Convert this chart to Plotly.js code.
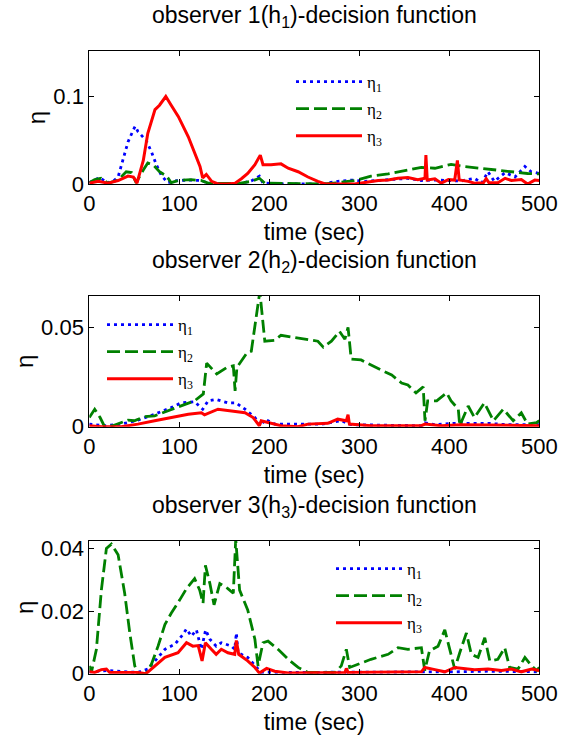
<!DOCTYPE html>
<html>
<head>
<meta charset="utf-8">
<script src="https://cdn.plot.ly/plotly-3.0.1.min.js"></script>
<style>html,body{margin:0;padding:0;background:#fff;}#chart{width:564px;height:738px;}</style>
</head>
<body>
<div id="chart"></div>
<script>
// ---------- labels ----------
const subplotTitles = ["observer 1(h<sub>1</sub>)-decision function",
                       "observer 2(h<sub>2</sub>)-decision function",
                       "observer 3(h<sub>3</sub>)-decision function"];
const seriesNames = ["η<sub>1</sub>", "η<sub>2</sub>", "η<sub>3</sub>"];
const xLabel = "time (sec)";
const yLabel = "η";
const xTicks = [0, 100, 200, 300, 400, 500];
const yTicks1 = [0, 0.1];
const yTicks2 = [0, 0.05];
const yTicks3 = [0, 0.02, 0.04];

// ---------- observer 1 ----------
const p1_eta1_t = [0,6,11.6,17,24,32,37,43,49,51,54,58,63,69,74.5,80,87,95,110,124,132,147,165,180,189,193,221,258,276,291,306,321,339,354,369,384,399,413,428,436,443,450,462,473,484,491,500];
const p1_eta1_v = [0.0015,0.005,0.0075,0.0035,0.001,0.008,0.027,0.048,0.062,0.066,0.060,0.056,0.050,0.037,0.022,0.010,0.0015,0.0035,0.0045,0.004,0.001,0,0,0.0035,0.009,0.001,0,0,0.003,0.0045,0.003,0.004,0.005,0.0065,0.004,0.0045,0.004,0.0035,0.0065,0.001,0.014,0.003,0.013,0.008,0.020,0.014,0.012];
const p1_eta2_t = [0,6,13,21,32,41,47,52,60,65,71,78,86,91,99,113,124,132,165,180,189,195,258,276,295,313,332,350,369,384,402,417,436,454,473,487,500];
const p1_eta2_v = [0.0015,0.005,0.0065,0.001,0.0045,0.014,0.013,0.0015,0.016,0.024,0.022,0.014,0.009,0.0015,0.004,0.005,0.004,0.001,0.0005,0.003,0.0065,0.001,0,0.0015,0.004,0.009,0.0115,0.015,0.019,0.018,0.0225,0.020,0.018,0.016,0.014,0.012,0.0115];
const p1_eta3_t = [0,10,21,32,43,49,53,60,65,73,78,85,91,99,110,117,123,126,130,136,143,154,162,169,176,184,190,193,202,213,221,232,243,254,262,295,306,321,332,343,354,365,373,374,375.5,384,391,399,406,409,411,421,428,438,441,444,454,462,469,480,487,495,500];
const p1_eta3_v = [0.001,0.003,0.001,0.004,0.009,0.008,0.001,0.027,0.058,0.085,0.090,0.100,0.090,0.077,0.054,0.035,0.020,0.007,0.011,0.003,0,0,0.001,0.006,0.012,0.022,0.033,0.022,0.022,0.023,0.018,0.014,0.008,0.003,0,0,0.0015,0.004,0.0045,0.0065,0.0075,0.005,0.0065,0.033,0.0045,0.006,0.001,0.005,0.0045,0.027,0.0045,0.003,0.001,0.0015,0.006,0.0015,0.0015,0.0065,0.004,0.005,0,0.0045,0.004];

// ---------- observer 2 ----------
const p2_eta1_t = [0,17,35.6,54,72.6,91,102,117,126,132,141,154,163,173,184,191,195,206,258,280,291,369,373,384,406,443,465,500];
const p2_eta1_v = [0.0013,0.0005,0.0013,0.0033,0.0063,0.0096,0.012,0.0126,0.0088,0.013,0.0137,0.012,0.012,0.0088,0.0046,0.0005,0.0038,0.0013,0.0013,0.003,0.001,0.0005,0.002,0.001,0.0017,0.0017,0.001,0.001];
const p2_eta2_t = [0,6,12,17,26,35.6,43,50,61,72.6,87.5,102,117,126.7,130.4,141.6,152.7,160,162,164,175,180,189.5,195,206,213,228,243,254,260,269,278,284,287.5,291,302,313,324,336,347,354,363,371,373,376,386,397,402,410,411.6,421,428,439,449,460,471,480,487,497,500];
const p2_eta2_v = [0.0046,0.0088,0.0046,0,0.0005,0.002,0.0033,0.003,0.005,0.0055,0.008,0.0104,0.013,0.0165,0.032,0.0265,0.0298,0.0306,0.018,0.0298,0.037,0.038,0.068,0.043,0.0435,0.046,0.045,0.044,0.043,0.040,0.043,0.048,0.044,0.050,0.034,0.0336,0.031,0.0286,0.026,0.022,0.021,0.017,0.020,0.003,0.013,0.013,0.017,0.013,0.0088,0.0005,0.0104,0.0046,0.012,0.003,0.0088,0.003,0.007,0.0013,0.002,0.003];
const p2_eta3_t = [0,13,35.6,54,72.6,91,110,124.5,128,143,158,173,182,189,191,198.6,213,232,243,265,276,285.6,287.5,289,313,369,373,391,413,443,500];
const p2_eta3_v = [0.0005,0,0,0.0013,0.003,0.0046,0.0063,0.007,0.006,0.0088,0.008,0.007,0.0046,0.0005,0.003,0.002,0.0005,0,0.0013,0.0017,0.0038,0.003,0.006,0.0013,0.0005,0.0005,0.0013,0.0005,0.001,0.0008,0.0005];

// ---------- observer 3 ----------
const p3_eta1_t = [0,21,54,65,76.4,84,95,104,108,113.4,119,124.5,129.3,134,141,146.7,158,161.6,163.4,165.3,176,184,191,206,369,406,443,500];
const p3_eta1_v = [0.0006,0.001,0.0004,0.0015,0.0052,0.0078,0.0094,0.0125,0.0143,0.012,0.014,0.0078,0.014,0.011,0.0088,0.0099,0.0088,0.0078,0.013,0.0067,0.0052,0.0025,0.0004,0.0004,0.0004,0.0006,0.0008,0.0006];
const p3_eta2_t = [0,2.3,7.9,13.4,19,24.5,32,39.3,45,50.5,54,63,69,76.4,84,91,100.5,108,117,122.7,126.4,129,134,138.6,145,154,160,162.7,167,176,184,187.5,193,198.6,209.7,221,232,243,273,280,285.6,289.3,298.6,313,332,343,354,369,372.7,378,387.5,395,400.5,406,411.6,419,424.5,432,439.4,445,454,461.6,467,476.4,484,491.5,497,500];
const p3_eta2_v = [0.0025,0.0004,0.0078,0.0267,0.040,0.0414,0.038,0.0257,0.013,0.0025,0,0,0.003,0.0088,0.0157,0.0193,0.0236,0.0272,0.0304,0.0267,0.0225,0.0346,0.0288,0.022,0.0288,0.0272,0.0257,0.043,0.0267,0.0204,0.011,0.0025,0.0099,0.0104,0.0078,0.0046,0.002,0.0004,0.0004,0.0025,0.0078,0.002,0.003,0.0046,0.0062,0.0083,0.0078,0.0083,0.001,0.0073,0.0088,0.014,0.0078,0.0015,0.0067,0.013,0.0062,0.0052,0.0115,0.0041,0.0046,0.0083,0.002,0.0015,0.0052,0.0025,0.001,0.002];
const p3_eta3_t = [0,6,13.4,19,22.7,28,39,54,63,72.6,84,98.6,108,115,121,125.3,129,135.6,141,146.7,154,161.6,163.4,166,176,184,189,197,206,221,258,284,285.6,287.5,369,372.7,384,395,406,417,428,443,458,469,480,491.5,500];
const p3_eta3_v = [0.0006,0.0004,0.0013,0.0015,0.0004,0.0004,0.0006,0.0004,0,0.0025,0.0052,0.0067,0.0099,0.0088,0.009,0.0041,0.0099,0.0078,0.0062,0.0078,0.0067,0.0062,0.0106,0.0062,0.0041,0.002,0.0002,0.0017,0.0008,0.0002,0.0002,0.0004,0.0017,0.0004,0.0006,0.002,0.0013,0.0006,0.002,0.0017,0.0013,0.0015,0.001,0.0015,0.0006,0.0015,0.001];

// ---------- styling ----------
const W = 564, H = 738;
const styles = [
  {color: '#0000ff', dash: '3px,4px', width: 2.8},
  {color: '#008000', dash: '13px,5px', width: 2.8},
  {color: '#ff0000', dash: 'solid', width: 3}
];
const panels = [
  {ax: '', leg: 'legend', data: [[p1_eta1_t,p1_eta1_v],[p1_eta2_t,p1_eta2_v],[p1_eta3_t,p1_eta3_v]]},
  {ax: '2', leg: 'legend2', data: [[p2_eta1_t,p2_eta1_v],[p2_eta2_t,p2_eta2_v],[p2_eta3_t,p2_eta3_v]]},
  {ax: '3', leg: 'legend3', data: [[p3_eta1_t,p3_eta1_v],[p3_eta2_t,p3_eta2_v],[p3_eta3_t,p3_eta3_v]]}
];
const traces = [];
panels.forEach((p, pi) => {
  p.data.forEach((d, si) => {
    traces.push({
      type: 'scatter', mode: 'lines',
      x: d[0], y: d[1],
      xaxis: 'x' + p.ax, yaxis: 'y' + p.ax,
      name: seriesNames[si],
      legend: p.leg,
      legendgroup: 'g' + pi + '_' + si,
      line: {color: styles[si].color, dash: styles[si].dash, width: styles[si].width}
    });
  });
});

const font = {family: 'Liberation Sans, Arial, sans-serif', color: '#000'};
// plot boxes in pixels: [left, right, top, bottom]
const boxes = [[89.3, 539.3, 51, 184], [89.3, 539.3, 295.7, 426.7], [89.3, 539.3, 540.7, 673.7]];
const yRanges = [[0, 0.152], [0, 0.0659], [0, 0.0425]];
const yTickSets = [yTicks1, yTicks2, yTicks3];

const layout = {
  width: W, height: H,
  margin: {l: 0, r: 0, t: 0, b: 0},
  paper_bgcolor: '#fff', plot_bgcolor: '#fff',
  font: font,
  showlegend: true,
  annotations: []
};
boxes.forEach((b, i) => {
  const sfx = i === 0 ? '' : String(i + 1);
  layout['xaxis' + sfx] = {
    domain: [b[0] / W, b[1] / W], anchor: 'y' + sfx,
    range: [0, 500], tickvals: xTicks, ticktext: xTicks.map(String),
    ticks: 'inside', ticklen: 5, tickwidth: 1, tickcolor: '#000',
    showline: true, linecolor: '#000', linewidth: 1, mirror: 'ticks',
    showgrid: false, zeroline: false, automargin: false,
    tickfont: {size: 22, family: font.family, color: '#000'},
    title: {text: xLabel, font: {size: 23, family: font.family, color: '#000'}, standoff: 8}
  };
  layout['yaxis' + sfx] = {
    domain: [1 - b[3] / H, 1 - b[2] / H], anchor: 'x' + sfx,
    range: yRanges[i], tickvals: yTickSets[i], ticktext: yTickSets[i].map(String),
    ticks: 'inside', ticklen: 5, tickwidth: 1, tickcolor: '#000',
    showline: true, linecolor: '#000', linewidth: 1, mirror: 'ticks',
    showgrid: false, zeroline: false, automargin: false,
    tickfont: {size: 22, family: font.family, color: '#000'},
    title: {text: yLabel, font: {size: 24, family: font.family, color: '#000'}, standoff: 0}
  };
  layout.annotations.push({
    text: subplotTitles[i], xref: 'paper', yref: 'paper',
    x: (b[0] + b[1]) / 2 / W, y: 1 - (b[2] - 34) / H,
    xanchor: 'center', yanchor: 'middle', showarrow: false,
    font: {size: 23, family: font.family, color: '#000'}
  });
});
const legPos = [[291, 64], [102, 307], [331, 551]];
['legend', 'legend2', 'legend3'].forEach((k, i) => {
  layout[k] = {
    x: legPos[i][0] / W, y: 1 - legPos[i][1] / H,
    xanchor: 'left', yanchor: 'top',
    bgcolor: 'rgba(0,0,0,0)', borderwidth: 0,
    itemwidth: 66, tracegroupgap: 2,
    font: {family: 'Liberation Serif, Times New Roman, serif', size: 17, color: '#000'}
  };
});

Plotly.newPlot('chart', traces, layout, {staticPlot: true, displayModeBar: false});
</script>
</body>
</html>
